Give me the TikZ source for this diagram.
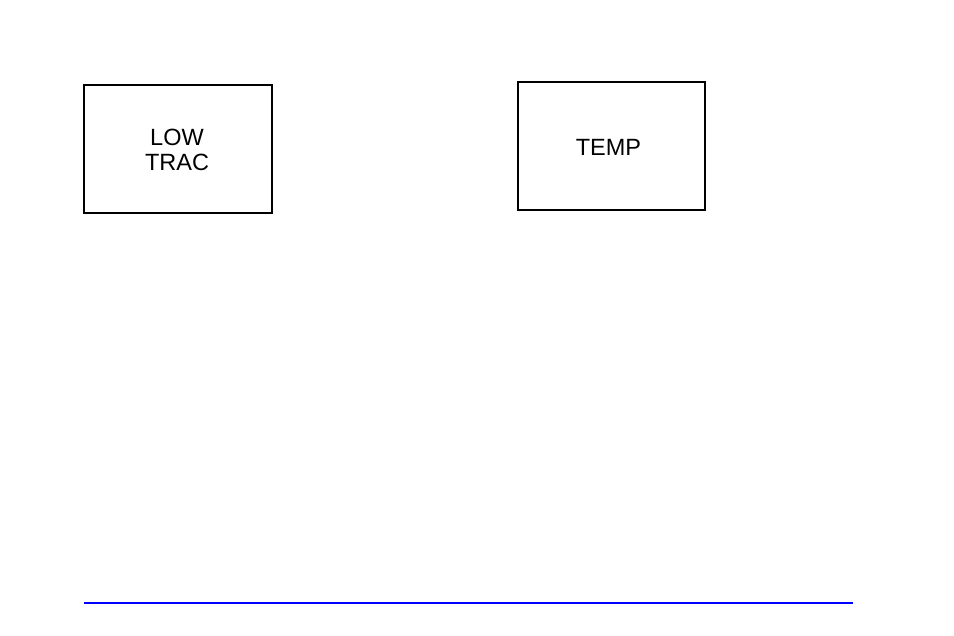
\documentclass[tikz,border=0pt]{standalone}
\usepackage{fontspec}
\setmainfont{Liberation Sans}
\begin{document}
\begin{tikzpicture}[x=1pt,y=-1pt,
  lampbox/.style={draw=black,line width=1.9pt,inner sep=0pt},
  lamptext/.style={align=center,inner sep=0pt,
    font=\fontsize{23.5}{25.7}\selectfont}]
\useasboundingbox (0,0) rectangle (954,636);
\node[lampbox,minimum width=188pt,minimum height=128pt] (low) at (178.3,149.3) {};
\node[lamptext] (lowt) at (177,150) {LOW\\TRAC};
\node[lampbox,minimum width=186.4pt,minimum height=127.7pt] (temp) at (611.5,146.2) {};
\node[lamptext] (tempt) at (608.5,147.2) {TEMP};
\coordinate (la) at (84.3,602.7);
\coordinate (lb) at (852.7,602.7);
\draw[blue,line width=2pt] (la) -- (lb);
\end{tikzpicture}
\end{document}
